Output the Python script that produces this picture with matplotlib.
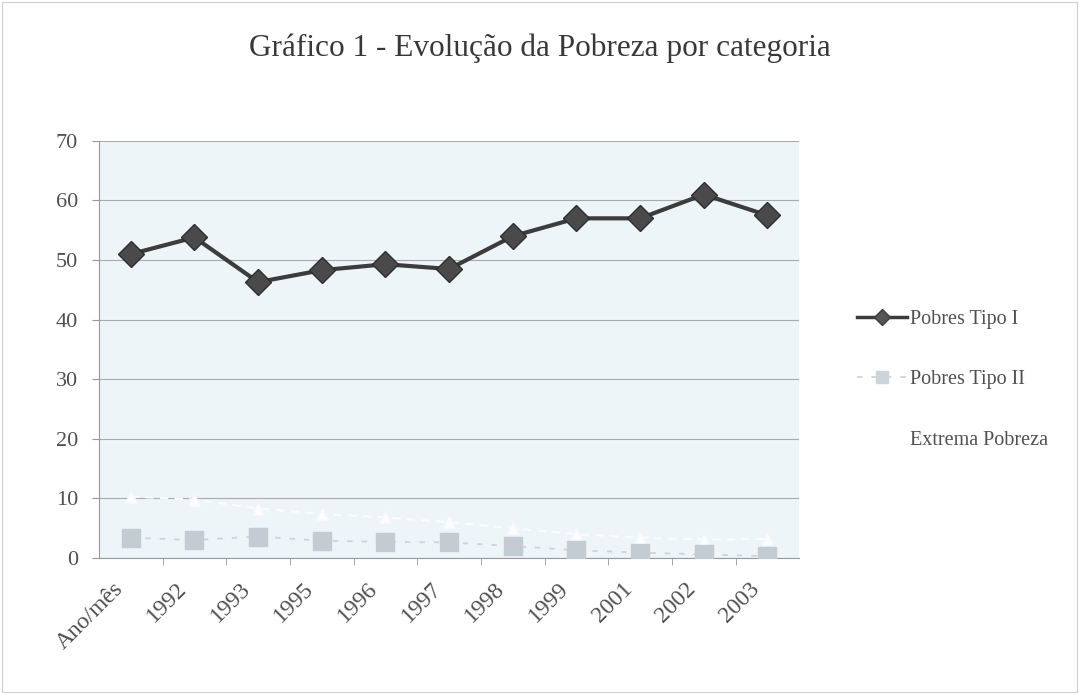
import matplotlib
matplotlib.use("Agg")
import matplotlib.pyplot as plt
import matplotlib.transforms as mtransforms
from matplotlib.lines import Line2D
from matplotlib.patches import Rectangle

categories = ["Ano/mês", "1992", "1993", "1995", "1996", "1997", "1998", "1999", "2001", "2002", "2003"]
pobres_tipo_1 = [51.0, 53.8, 46.3, 48.3, 49.3, 48.5, 54.0, 57.0, 57.0, 61.0, 57.5]
pobres_tipo_2 = [3.4, 3.0, 3.6, 2.9, 2.7, 2.6, 2.0, 1.3, 0.9, 0.6, 0.3]
extrema_pobreza = [10.3, 9.8, 8.3, 7.4, 6.8, 6.0, 5.0, 4.0, 3.4, 3.1, 3.2]
y_ticks = [0, 10, 20, 30, 40, 50, 60, 70]
title = "Gráfico 1 - Evolução da Pobreza por categoria"

plt.rcParams['font.family'] = ['Liberation Serif', 'DejaVu Serif']

fig = plt.figure(figsize=(10.79, 6.94), dpi=100)
fig.patch.set_facecolor("white")
fig.patches.append(Rectangle((0.002, 0.003), 0.996, 0.994, transform=fig.transFigure,
                             fill=False, edgecolor="#cfcfcf", linewidth=0.8))

ax = fig.add_axes([0.0917, 0.196, 0.649, 0.601])
ax.set_facecolor("#edf5f9")

x = list(range(len(categories)))
ax.plot(x, extrema_pobreza, color="#fafcfd", linewidth=1.5, linestyle=(0, (4, 3)),
        marker="^", markersize=9, markerfacecolor="#fbfdfe", markeredgecolor="#f6f9fb",
        label="Extrema Pobreza", zorder=2)
ax.plot(x, pobres_tipo_2, color="#ccd4da", linewidth=1.3, linestyle=(0, (3, 5)),
        marker="s", markersize=13, markerfacecolor="#c3ccd3", markeredgecolor="#c3ccd3",
        label="Pobres Tipo II", zorder=3)
ax.plot(x, pobres_tipo_1, color="#3c3c3c", linewidth=3.0,
        marker="D", markersize=13, markerfacecolor="#4a4a4a", markeredgecolor="#2e2e2e",
        label="Pobres Tipo I", zorder=4)

ax.set_xlim(-0.5, len(categories) - 0.5)
ax.set_ylim(0, 70)
ax.set_yticks(y_ticks)
ax.set_yticklabels([str(v) for v in y_ticks], fontsize=16, color="#505050")
ax.set_xticks(x)
ax.set_xticklabels(categories, rotation=45, ha="right", va="center", rotation_mode="anchor",
                   fontsize=17, color="#505050")
ax.tick_params(axis="x", length=0, pad=20)
ax.tick_params(axis="y", length=5, color="#999999", pad=10)
ax.set_xticks([i + 0.5 for i in x[:-1]], minor=True)
ax.tick_params(axis="x", which="minor", length=5, color="#999999")
offset = mtransforms.ScaledTranslation(-8 / 72, 0, fig.dpi_scale_trans)
for lbl in ax.get_xticklabels():
    lbl.set_transform(lbl.get_transform() + offset)

ax.yaxis.grid(True, color="#ababab", linewidth=0.8)
ax.set_axisbelow(True)
for side in ["top", "right"]:
    ax.spines[side].set_visible(False)
ax.spines["left"].set_color("#999999")
ax.spines["bottom"].set_color("#999999")

fig.text(0.5, 0.93, title, ha="center", va="center", fontsize=22.5, color="#383838")

handles = [
    Line2D([], [], color="#3c3c3c", linewidth=2.5, marker="D", markersize=8,
           markerfacecolor="#555555", markeredgecolor="#3c3c3c"),
    Line2D([], [], color="#ccd4da", linewidth=1.3, linestyle=(0, (3, 5)), marker="s",
           markersize=9, markerfacecolor="#cdd5db", markeredgecolor="#cdd5db"),
    Line2D([], [], color="white", linewidth=1.5, marker="^", markersize=8,
           markerfacecolor="white", markeredgecolor="white"),
]
labels = ["Pobres Tipo I", "Pobres Tipo II", "Extrema Pobreza"]
leg = fig.legend(handles, labels, loc="center left", bbox_to_anchor=(0.785, 0.453),
                 frameon=False, fontsize=14.5, handlelength=2.5, labelspacing=2.05,
                 handletextpad=0.15, borderpad=0)
for t in leg.get_texts():
    t.set_color("#505050")

fig.savefig("out.png", dpi=100, facecolor="white")
